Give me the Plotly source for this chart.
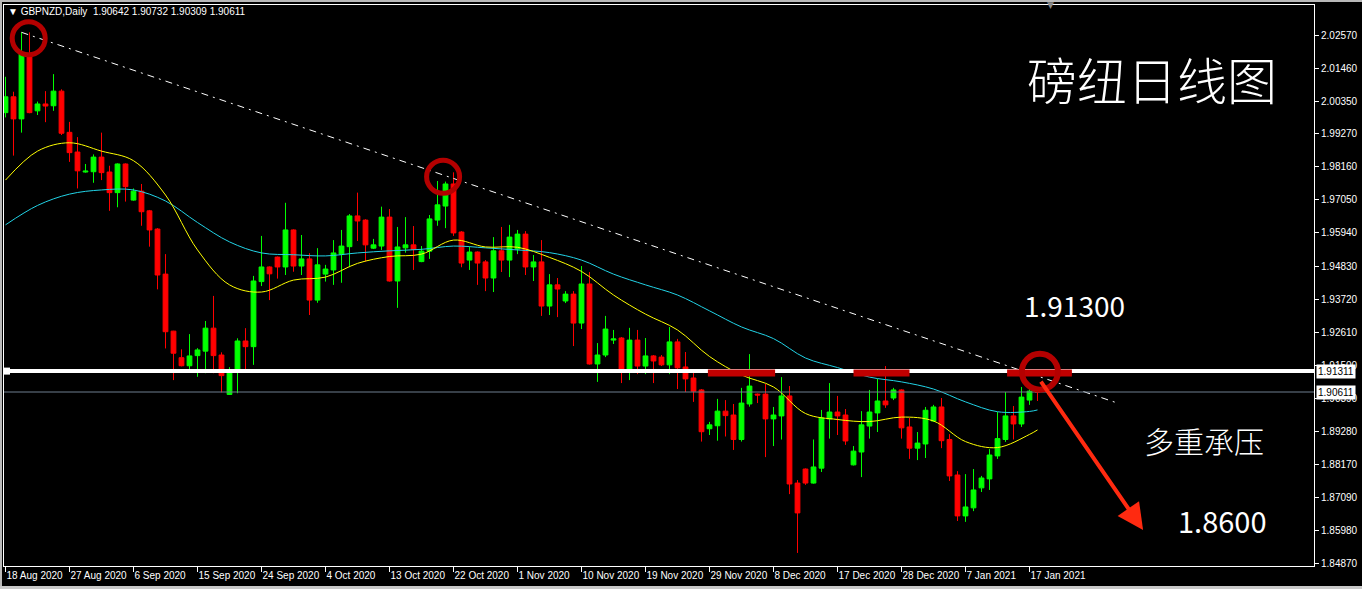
import plotly.graph_objects as go

# GBPNZD daily bars; index 0 = 18 Aug 2020 (Sunday sessions included)
opens = [1.9997, 2.0050, 1.9976, 2.0184, 2.0003, 2.0026, 2.0020, 2.0069, 1.9931, 1.9865,
         1.9798, 1.9799, 1.9848, 1.9798, 1.9729, 1.9825, 1.9704, 1.9734, 1.9668, 1.9607,
         1.9456, 1.9265, 1.9176, 1.9149, 1.9183, 1.9198, 1.9275, 1.9185, 1.9053, 1.9131,
         1.9232, 1.9213, 1.9431, 1.9480, 1.9513, 1.9480, 1.9604, 1.9483, 1.9507, 1.9369,
         1.9456, 1.9470, 1.9523, 1.9548, 1.9651, 1.9637, 1.9543, 1.9550, 1.9647, 1.9433,
         1.9544, 1.9554, 1.9498, 1.9533, 1.9637, 1.9684, 1.9758, 1.9597, 1.9503, 1.9530,
         1.9497, 1.9443, 1.9534, 1.9503, 1.9540, 1.9590, 1.9480, 1.9497, 1.9349, 1.9420,
         1.9366, 1.9389, 1.9292, 1.9423, 1.9155, 1.9185, 1.9235, 1.9242, 1.9138, 1.9235,
         1.9148, 1.9182, 1.9178, 1.9152, 1.9229, 1.9145, 1.9108, 1.9068, 1.8938, 1.8948,
         1.8997, 1.8984, 1.8902, 1.9021, 1.9054, 1.9054, 1.8971, 1.8981, 1.9048, 1.8756,
         1.8803, 1.8756, 1.8806, 1.8971, 1.8994, 1.8984, 1.8817, 1.8860, 1.8947, 1.8991,
         1.9031, 1.9041, 1.9068, 1.8944, 1.8873, 1.8887, 1.8964, 1.9011, 1.8902, 1.8783,
         1.8646, 1.8673, 1.8740, 1.8770, 1.8847, 1.8902, 1.8981, 1.8954, 1.9034, 1.90642]
highs = [2.0117, 2.0067, 2.0266, 2.0266, 2.0034, 2.0069, 2.0126, 2.0075, 1.9966, 1.9915,
         1.9825, 1.9857, 1.9930, 1.9819, 1.9827, 1.9827, 1.9743, 1.9758, 1.9671, 1.9610,
         1.9523, 1.9266, 1.9204, 1.9255, 1.9208, 1.9299, 1.9383, 1.9194, 1.9144, 1.9241,
         1.9275, 1.9450, 1.9584, 1.9482, 1.9515, 1.9695, 1.9606, 1.9587, 1.9526, 1.9543,
         1.9487, 1.9570, 1.9604, 1.9657, 1.9729, 1.9640, 1.9574, 1.9682, 1.9674, 1.9614,
         1.9647, 1.9617, 1.9550, 1.9654, 1.9768, 1.9766, 1.9797, 1.9600, 1.9548, 1.9532,
         1.9503, 1.9580, 1.9614, 1.9621, 1.9604, 1.9600, 1.9520, 1.9570, 1.9456, 1.9443,
         1.9399, 1.9399, 1.9483, 1.9463, 1.9225, 1.9316, 1.9269, 1.9245, 1.9276, 1.9269,
         1.9242, 1.9185, 1.9185, 1.9279, 1.9239, 1.9195, 1.9135, 1.9071, 1.8961, 1.9038,
         1.9034, 1.9021, 1.9075, 1.9188, 1.9056, 1.9088, 1.9011, 1.9111, 1.9081, 1.8766,
         1.8805, 1.8902, 1.9001, 1.9091, 1.9048, 1.9004, 1.8880, 1.8997, 1.9068, 1.9105,
         1.9148, 1.9075, 1.9070, 1.8974, 1.8927, 1.9011, 1.9018, 1.9041, 1.8920, 1.8796,
         1.8786, 1.8803, 1.8780, 1.8870, 1.8994, 1.9061, 1.9014, 1.9078, 1.9081, 1.90732]
lows = [1.9981, 1.9853, 1.9930, 1.9995, 1.9989, 1.9965, 2.0003, 1.9922, 1.9832, 1.9743,
        1.9796, 1.9762, 1.9771, 1.9668, 1.9680, 1.9699, 1.9702, 1.9618, 1.9548, 1.9405,
        1.9207, 1.9101, 1.9147, 1.9126, 1.9112, 1.9124, 1.9124, 1.9060, 1.9051, 1.9057,
        1.9129, 1.9152, 1.9416, 1.9369, 1.9441, 1.9453, 1.9464, 1.9453, 1.9319, 1.9360,
        1.9431, 1.9420, 1.9427, 1.9479, 1.9567, 1.9498, 1.9540, 1.9537, 1.9431, 1.9343,
        1.9528, 1.9470, 1.9496, 1.9507, 1.9618, 1.9610, 1.9584, 1.9479, 1.9470, 1.9420,
        1.9399, 1.9396, 1.9463, 1.9446, 1.9523, 1.9453, 1.9433, 1.9316, 1.9319, 1.9312,
        1.9359, 1.9215, 1.9272, 1.9153, 1.9095, 1.9178, 1.9222, 1.9091, 1.9101, 1.9121,
        1.9121, 1.9091, 1.9148, 1.9121, 1.9071, 1.9061, 1.9028, 1.8895, 1.8917, 1.8898,
        1.8912, 1.8867, 1.8895, 1.9012, 1.9024, 1.8843, 1.8880, 1.8902, 1.8719, 1.8522,
        1.8750, 1.8754, 1.8793, 1.8905, 1.8917, 1.8884, 1.8815, 1.8776, 1.8905, 1.8927,
        1.9008, 1.9034, 1.8905, 1.8837, 1.8833, 1.8840, 1.8962, 1.8873, 1.8763, 1.8629,
        1.8626, 1.8662, 1.8726, 1.8733, 1.8837, 1.8894, 1.8902, 1.8944, 1.9018, 1.90309]
closes = [2.0050, 1.9976, 2.0196, 1.9997, 2.0026, 2.0019, 2.0069, 1.9928, 1.9863, 1.9802,
          1.9801, 1.9848, 1.9796, 1.9729, 1.9825, 1.9749, 1.9734, 1.9665, 1.9604, 1.9453,
          1.9263, 1.9191, 1.9149, 1.9182, 1.9202, 1.9275, 1.9183, 1.9116, 1.9135, 1.9232,
          1.9213, 1.9433, 1.9480, 1.9457, 1.9480, 1.9604, 1.9483, 1.9507, 1.9369, 1.9487,
          1.9473, 1.9527, 1.9550, 1.9651, 1.9634, 1.9554, 1.9554, 1.9647, 1.9433, 1.9547,
          1.9554, 1.9539, 1.9533, 1.9641, 1.9688, 1.9758, 1.9594, 1.9493, 1.9530, 1.9493,
          1.9443, 1.9534, 1.9503, 1.9580, 1.9590, 1.9480, 1.9497, 1.9349, 1.9420, 1.9406,
          1.9389, 1.9292, 1.9423, 1.9155, 1.9185, 1.9272, 1.9239, 1.9138, 1.9235, 1.9148,
          1.9182, 1.9165, 1.9152, 1.9229, 1.9142, 1.9105, 1.9064, 1.8928, 1.8951, 1.8997,
          1.8982, 1.8902, 1.9024, 1.9081, 1.9051, 1.8971, 1.8984, 1.9048, 1.8753, 1.8656,
          1.8756, 1.8810, 1.8974, 1.8994, 1.8981, 1.8897, 1.8863, 1.8951, 1.8994, 1.9031,
          1.9018, 1.9068, 1.8941, 1.8873, 1.8890, 1.9000, 1.9011, 1.8898, 1.8780, 1.8646,
          1.8676, 1.8733, 1.8773, 1.8850, 1.8905, 1.8981, 1.8954, 1.9044, 1.9064, 1.90611]

# bottom axis labels, one every 8 bars
date_bars = [0, 8, 16, 24, 32, 40, 48, 56, 64, 72, 80, 88, 96, 104, 112, 120, 128]
date_labels = ["18 Aug 2020", "27 Aug 2020", "6 Sep 2020", "15 Sep 2020", "24 Sep 2020",
               "4 Oct 2020", "13 Oct 2020", "22 Oct 2020", "1 Nov 2020", "10 Nov 2020",
               "19 Nov 2020", "29 Nov 2020", "8 Dec 2020", "17 Dec 2020", "28 Dec 2020",
               "7 Jan 2021", "17 Jan 2021"]

# right price scale
price_ticks = [2.02570, 2.01460, 2.00350, 1.99270, 1.98160, 1.97050, 1.95940, 1.94830,
               1.93720, 1.92610, 1.91500, 1.90390, 1.89280, 1.88170, 1.87090, 1.85980, 1.84870]

# moving averages sampled every 4 bars (plus the last bar)
ma_bars = [0, 4, 8, 12, 16, 20, 24, 28, 32, 36, 40, 44, 48, 52, 56, 60, 64, 68, 72, 76,
           80, 84, 88, 92, 96, 100, 104, 108, 112, 116, 120, 124, 128, 129]
ma_fast = [1.9771, 1.9868, 1.9896, 1.9868, 1.9836, 1.9721, 1.9537, 1.9420, 1.9396, 1.9436,
           1.9446, 1.9492, 1.9515, 1.9523, 1.9570, 1.9547, 1.9546, 1.9512, 1.9465, 1.9386,
           1.9322, 1.9269, 1.9180, 1.9118, 1.9078, 1.8989, 1.8969, 1.8962, 1.8977, 1.8964,
           1.8895, 1.8875, 1.8919, 1.8934]
ma_slow = [1.9621, 1.9686, 1.9724, 1.9738, 1.9738, 1.9701, 1.9629, 1.9564, 1.9527, 1.9521,
           1.9517, 1.9527, 1.9534, 1.9539, 1.9550, 1.9544, 1.9537, 1.9528, 1.9503, 1.9456,
           1.9420, 1.9386, 1.9333, 1.9279, 1.9240, 1.9175, 1.9143, 1.9111, 1.9095, 1.9071,
           1.9028, 1.8995, 1.8996, 1.9001]

resistance = 1.91311
bid = 1.90611
resistance_text = "1.91300"
target_text = "1.8600"
trend_end = (139, 1.9024)
touch_zones = [(87.8, 96.2), (106.0, 113.0), (125.2, 133.3)]

# page geometry
W, H = 1362, 589
ML, MR, MT, MB = 4, 48, 5, 23
PW, PH = W - ML - MR, H - MT - MB


def px(x):
    return (x - ML) / PW


def py(y):
    return (H - MB - y) / PH


bars = list(range(len(closes)))

fig = go.Figure()
fig.add_trace(go.Scatter(x=ma_bars, y=ma_slow, mode="lines",
                         line=dict(color="#22d3e6", width=1, shape="spline"), hoverinfo="skip"))
fig.add_trace(go.Scatter(x=ma_bars, y=ma_fast, mode="lines",
                         line=dict(color="#ffff00", width=1, shape="spline"), hoverinfo="skip"))
fig.add_trace(go.Candlestick(
    x=bars, open=opens, high=highs, low=lows, close=closes,
    increasing=dict(line=dict(color="#00ff00", width=1), fillcolor="#00ff00"),
    decreasing=dict(line=dict(color="#ff0000", width=1), fillcolor="#ff0000"),
    whiskerwidth=0,
))

shapes = []
# falling trend line from the August top
shapes.append(dict(type="line", xref="x", yref="y", x0=2, y0=highs[2], x1=trend_end[0], y1=trend_end[1],
                   line=dict(color="white", width=1, dash="7px,5px,2px,5px")))
# horizontal resistance and bid line
shapes.append(dict(type="line", xref="paper", yref="y", x0=0, x1=1, y0=bid, y1=bid,
                   line=dict(color="#6f7f8f", width=1)))
shapes.append(dict(type="line", xref="paper", yref="y", x0=0, x1=1, y0=resistance, y1=resistance,
                   line=dict(color="white", width=4)))
shapes.append(dict(type="rect", xref="paper", yref="y", ysizemode="pixel", yanchor=resistance,
                   x0=px(3), x1=px(10), y0=-3.5, y1=3.5, fillcolor="white", line=dict(width=0)))
# touches of the resistance
for a, b in touch_zones:
    shapes.append(dict(type="line", xref="x", yref="y", x0=a, x1=b, y0=resistance - 0.0006,
                       y1=resistance - 0.0006, line=dict(color="#c00000", width=7)))
# circled highs
for cx, cy, r, w in [(2.9, 2.0246, 16.5, 5), (54.7, 1.9782, 16.5, 5), (129.3, 1.9129, 18, 6)]:
    shapes.append(dict(type="circle", xref="x", yref="y", xsizemode="pixel", ysizemode="pixel",
                       xanchor=cx, yanchor=cy, x0=-r, x1=r, y0=-r, y1=r,
                       line=dict(color="#b40000", width=w)))
# window border strips
shapes.append(dict(type="rect", xref="paper", yref="paper", x0=px(0), x1=px(W), y0=py(2), y1=py(0),
                   fillcolor="#b8b8b8", line=dict(width=0)))
shapes.append(dict(type="rect", xref="paper", yref="paper", x0=px(0), x1=px(2), y0=py(H), y1=py(0),
                   fillcolor="#b8b8b8", line=dict(width=0)))
shapes.append(dict(type="rect", xref="paper", yref="paper", x0=px(0), x1=px(W), y0=py(H), y1=py(586),
                   fillcolor="#c8c8c8", line=dict(width=0)))

cjk = "Noto Sans CJK SC"
ann = []
ann.append(dict(xref="paper", yref="paper", x=px(6), y=py(12), xanchor="left", yanchor="middle",
                text="▼ GBPNZD,Daily  1.90642 1.90732 1.90309 1.90611", showarrow=False,
                font=dict(family="Liberation Sans", size=10, color="white")))
ann.append(dict(xref="paper", yref="paper", x=px(1050), y=py(5), xanchor="center", yanchor="middle",
                text="▼", showarrow=False, font=dict(family="DejaVu Sans", size=9, color="#8a8a8a")))
ann.append(dict(xref="paper", yref="paper", x=px(1152), y=py(78), xanchor="center", yanchor="middle",
                text="磅纽日线图", showarrow=False, font=dict(family=cjk, size=50, color="white", weight=300)))
ann.append(dict(xref="paper", yref="paper", x=px(1022), y=py(305), xanchor="left", yanchor="middle",
                text=resistance_text, showarrow=False, font=dict(family=cjk, size=28, color="white")))
ann.append(dict(xref="paper", yref="paper", x=px(1142), y=py(440), xanchor="left", yanchor="middle",
                text="多重承压", showarrow=False, font=dict(family=cjk, size=30, color="white", weight=300)))
ann.append(dict(xref="paper", yref="paper", x=px(1176), y=py(520), xanchor="left", yanchor="middle",
                text=target_text, showarrow=False, font=dict(family=cjk, size=29, color="white")))
# projected move down
ann.append(dict(xref="x", yref="y", axref="x", ayref="y", x=142.2, y=1.8599, ax=129.3, ay=1.9101,
                text="", showarrow=True, arrowhead=2, arrowsize=1.3, arrowwidth=4,
                arrowcolor="#ff2a10", standoff=0, startstandoff=0))
# price tags on the scale
for val in (resistance, bid):
    ann.append(dict(xref="paper", yref="y", x=1, y=val, xanchor="left", yanchor="middle", xshift=2,
                    text=f"{val:.5f}", showarrow=False, bgcolor="white", borderpad=1,
                    font=dict(family="Liberation Sans", size=10, color="black")))

fig.update_layout(
    width=W, height=H,
    margin=dict(l=ML, r=MR, t=MT, b=MB, pad=0, autoexpand=False),
    paper_bgcolor="black", plot_bgcolor="black",
    showlegend=False, boxgap=0.15,
    shapes=shapes, annotations=ann,
    font=dict(family="Liberation Sans", size=10, color="white"),
    xaxis=dict(range=[-0.1875, 163.5625], showgrid=False, zeroline=False, automargin=False,
               showline=True, mirror=True, linecolor="white", linewidth=1,
               tickvals=date_bars, ticktext=date_labels, ticks="outside", ticklen=5,
               tickcolor="white", ticklabelposition="outside right", tickangle=0,
               tickfont=dict(family="Liberation Sans", size=10, color="white"),
               rangeslider=dict(visible=False), fixedrange=True),
    yaxis=dict(range=[1.84782, 2.035755], side="right", showgrid=False, zeroline=False, automargin=False,
               showline=True, mirror=True, linecolor="white", linewidth=1,
               tickvals=price_ticks, ticktext=[f"{v:.5f}" for v in price_ticks],
               ticks="outside", ticklen=4, tickcolor="white",
               tickfont=dict(family="Liberation Sans", size=10, color="white"), fixedrange=True),
)

fig.write_html("out.html")
